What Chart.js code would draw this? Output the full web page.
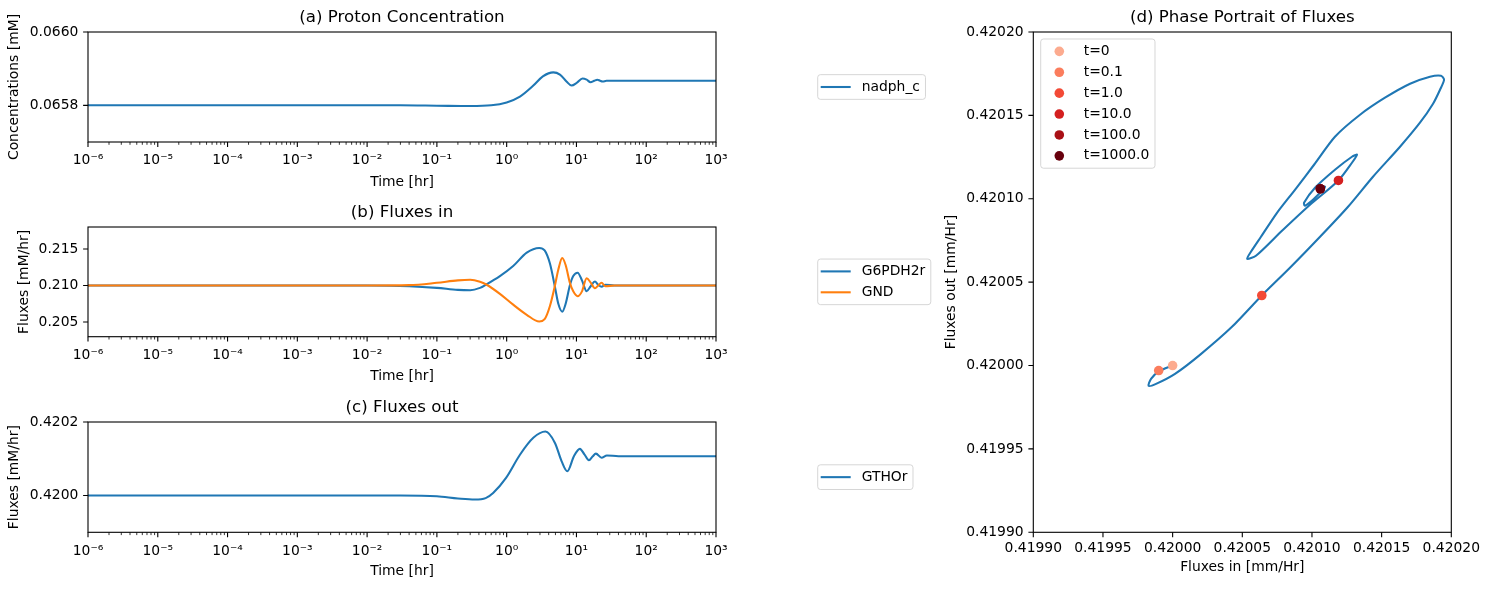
<!DOCTYPE html>
<html>
<head>
<meta charset="utf-8">
<script src="https://cdn.jsdelivr.net/npm/chart.js"></script>
<style>
html,body{margin:0;padding:0;background:#fff;}
#wrap{position:relative;width:1489px;height:590px;overflow:hidden;background:#fff;}
canvas{position:absolute;}
</style>
</head>
<body>
<div id="wrap">
<canvas id="ca" width="940" height="195" style="left:0px;top:0px"></canvas>
<canvas id="cb" width="940" height="195" style="left:0px;top:195px"></canvas>
<canvas id="cc" width="940" height="200" style="left:0px;top:390px"></canvas>
<canvas id="cd" width="549" height="590" style="left:940px;top:0px"></canvas>
</div>
<script>
// ---------------- data ----------------
const logTickExponents = [-6, -5, -4, -3, -2, -1, 0, 1, 2, 3];

// (a) Proton concentration
const nadphTime   = [1e-6, 1e-3, 0.03, 0.1, 0.3, 0.6, 1.0, 1.55, 2.41, 3.3, 4.66, 5.8, 7.2, 8.5, 10.2, 12.2, 14, 15.9, 18, 19.9, 21.8, 23.7, 27, 40, 1000];
const nadphValues = [0.065800, 0.065800, 0.065800, 0.065799, 0.065798, 0.065800, 0.065808, 0.065824, 0.065854, 0.065879, 0.065890, 0.065884, 0.065865, 0.065854, 0.065862, 0.065873, 0.065870, 0.065863, 0.065867, 0.065870, 0.065867, 0.065865, 0.065867, 0.065867, 0.065867];
const yTicksA = [0.0658, 0.0660];

// (b) Fluxes in
const fluxInTime    = [1e-6, 1e-3, 0.01, 0.04, 0.1, 0.2, 0.3, 0.415, 0.51, 0.8, 1.24, 1.94, 2.93, 3.5, 4.17, 4.92, 5.5, 6.26, 7.0, 8.09, 9.0, 10.4, 12, 14, 16, 18.4, 20.5, 22.9, 26, 35, 1000];
const g6pdh2rValues = [0.21, 0.21, 0.21, 0.20991, 0.20968, 0.2094, 0.20935, 0.20968, 0.21014, 0.21128, 0.21266, 0.2145, 0.21514, 0.2148, 0.2130, 0.2098, 0.2075, 0.20642, 0.2075, 0.2101, 0.2113, 0.21175, 0.2107, 0.20922, 0.2099, 0.21055, 0.2101, 0.20982, 0.2101, 0.21, 0.21];
const gndValues     = [0.21, 0.21, 0.21, 0.21005, 0.21037, 0.2107, 0.21078, 0.21051, 0.21014, 0.20886, 0.20738, 0.206, 0.20508, 0.2054, 0.2072, 0.2100, 0.2122, 0.21376, 0.2128, 0.2103, 0.2092, 0.20853, 0.2092, 0.2110, 0.2104, 0.20963, 0.2100, 0.21037, 0.2099, 0.21, 0.21];
const yTicksB = [0.205, 0.210, 0.215];

// (c) Fluxes out
const gthorTime   = [1e-6, 1e-3, 0.03, 0.1, 0.2, 0.35, 0.5, 0.64, 0.98, 1.55, 2.41, 3.6, 4.92, 6.14, 7.4, 9.2, 11.2, 13, 15.1, 17, 19, 22.9, 27.3, 40, 1000];
const gthorValues = [0.42, 0.42, 0.42, 0.419998, 0.419992, 0.419989, 0.419993, 0.420007, 0.420048, 0.420111, 0.420157, 0.420174, 0.420143, 0.420093, 0.420066, 0.420107, 0.420127, 0.420112, 0.420096, 0.420106, 0.420114, 0.420103, 0.420109, 0.420107, 0.420107];
const yTicksC = [0.4200, 0.4202];

// (d) Phase portrait
const phaseFluxIn  = [0.42000, 0.4199904, 0.4199845, 0.4199827, 0.4199881, 0.4200017, 0.4200196, 0.4200426, 0.420064, 0.4200842, 0.4201058, 0.4201259, 0.4201438, 0.4201632, 0.4201775, 0.4201869, 0.4201919, 0.4201948, 0.4201926, 0.4201847, 0.4201704, 0.4201524, 0.4201345, 0.4201165, 0.4201015, 0.4200878, 0.4200749, 0.4200634, 0.4200562, 0.4200534, 0.4200598, 0.4200785, 0.4200986, 0.420119, 0.4201287, 0.4201323, 0.4201287, 0.4201165, 0.4201022, 0.4200943, 0.420095, 0.4201007, 0.4201065, 0.4201094, 0.4201065];
const phaseFluxOut = [0.42000, 0.4199966, 0.419992, 0.4199878, 0.419989, 0.419995, 0.4200064, 0.4200232, 0.420042, 0.4200586, 0.4200772, 0.4200952, 0.4201132, 0.4201312, 0.4201456, 0.420157, 0.4201654, 0.4201714, 0.4201738, 0.4201732, 0.420169, 0.4201606, 0.4201504, 0.4201372, 0.4201204, 0.4201054, 0.4200916, 0.4200772, 0.4200682, 0.420064, 0.4200658, 0.4200808, 0.4200964, 0.420111, 0.4201216, 0.4201264, 0.4201252, 0.4201174, 0.4201066, 0.4200976, 0.4200958, 0.4200994, 0.4201042, 0.4201072, 0.420106];
const markerLabels  = ['t=0', 't=0.1', 't=1.0', 't=10.0', 't=100.0', 't=1000.0'];
const markerFluxIn  = [0.42000, 0.419990, 0.420064, 0.420119, 0.420106, 0.420106];
const markerFluxOut = [0.42000, 0.419997, 0.420042, 0.420111, 0.420106, 0.420106];
const ticksD = [0.41990, 0.41995, 0.42000, 0.42005, 0.42010, 0.42015, 0.42020];

// ---------------- styles ----------------
const BLUE = '#1f77b4', ORANGE = '#ff7f0e';
const markerColors = ['#fcab8f', '#fb7d5d', '#f34a36', '#d42020', '#a91016', '#67000d'];
const FONT = '"DejaVu Sans"';
const FS = 13.89;

Chart.defaults.font.family = FONT;
Chart.defaults.font.size = FS;
Chart.defaults.color = '#000';

// ---------------- helpers ----------------
const SUP = {'-':'\u207B','0':'\u2070','1':'\u00B9','2':'\u00B2','3':'\u00B3','4':'\u2074','5':'\u2075','6':'\u2076','7':'\u2077','8':'\u2078','9':'\u2079'};
function supLabel(e) { return '10' + String(e).split('').map(c => SUP[c]).join(''); }
function isMajorLog(v) { const e = Math.round(Math.log10(v)); return Math.abs(v / Math.pow(10, e) - 1) < 1e-9; }
const logMajor = logTickExponents.map(e => Math.pow(10, e));
const logMinor = [];
logTickExponents.slice(0, -1).forEach(e => { for (let m = 2; m <= 9; m++) logMinor.push(m * Math.pow(10, e)); });
const logAll = logMajor.concat(logMinor).sort((a, b) => a - b);
const pts = (xs, ys) => xs.map((x, i) => ({x: x, y: ys[i]}));

const tickInfo = {};
const legendInfo = {};

const frameTicks = {
  id: 'frameTicks',
  afterDatasetsDraw(chart) {
    const info = tickInfo[chart.canvas.id];
    if (!info) return;
    const ctx = chart.ctx, a = chart.chartArea, sx = chart.scales.x, sy = chart.scales.y;
    ctx.save();
    ctx.strokeStyle = '#000';
    const drawX = (vals, len, w) => {
      ctx.lineWidth = w; ctx.beginPath();
      vals.forEach(v => { const p = sx.getPixelForValue(v); ctx.moveTo(p, a.bottom); ctx.lineTo(p, a.bottom + len); });
      ctx.stroke();
    };
    const drawY = (vals, len, w) => {
      ctx.lineWidth = w; ctx.beginPath();
      vals.forEach(v => { const p = sy.getPixelForValue(v); ctx.moveTo(a.left, p); ctx.lineTo(a.left - len, p); });
      ctx.stroke();
    };
    drawX(info.xMajor, 4.9, 1.1);
    if (info.xMinor) drawX(info.xMinor, 2.8, 0.8);
    drawY(info.yMajor, 4.9, 1.1);
    ctx.lineWidth = 1.1;
    ctx.strokeRect(a.left, a.top, a.right - a.left, a.bottom - a.top);
    ctx.restore();
  }
};

function roundRectPath(ctx, x, y, w, h, r) {
  ctx.beginPath();
  ctx.moveTo(x + r, y);
  ctx.lineTo(x + w - r, y); ctx.arcTo(x + w, y, x + w, y + r, r);
  ctx.lineTo(x + w, y + h - r); ctx.arcTo(x + w, y + h, x + w - r, y + h, r);
  ctx.lineTo(x + r, y + h); ctx.arcTo(x, y + h, x, y + h - r, r);
  ctx.lineTo(x, y + r); ctx.arcTo(x, y, x + r, y, r);
  ctx.closePath();
}

const boxLegend = {
  id: 'boxLegend',
  afterDraw(chart) {
    const L = legendInfo[chart.canvas.id];
    if (!L) return;
    const ctx = chart.ctx, a = chart.chartArea;
    const items = chart.data.datasets.filter(d => d.legendKind).sort((p, q) => p.legendRank - q.legendRank);
    ctx.save();
    ctx.font = FS + 'px ' + FONT;
    const maxW = Math.max.apply(null, items.map(d => ctx.measureText(d.label).width));
    const n = items.length;
    const h = 24.7 + (n - 1) * 20.9;
    const x = L.inside ? a.left + 7.4 : L.x;
    const y = L.inside ? a.top + 7 : (a.top + a.bottom) / 2 - h / 2;
    const w = Math.max(L.minW || 0, L.textOff + maxW + 5.5);
    roundRectPath(ctx, x, y, w, h, 2.8);
    ctx.fillStyle = 'rgba(255,255,255,0.8)';
    ctx.fill();
    ctx.strokeStyle = 'rgba(204,204,204,0.8)';
    ctx.lineWidth = 1;
    ctx.stroke();
    items.forEach((d, i) => {
      const ry = y + 12.35 + i * 20.9;
      if (d.legendKind === 'line') {
        ctx.strokeStyle = d.borderColor; ctx.lineWidth = 2.08;
        ctx.beginPath(); ctx.moveTo(x + 3, ry); ctx.lineTo(x + 33, ry); ctx.stroke();
      } else {
        ctx.fillStyle = d.backgroundColor;
        ctx.beginPath(); ctx.arc(x + 18.6, ry, 4.8, 0, Math.PI * 2); ctx.fill();
      }
      ctx.fillStyle = '#000'; ctx.textAlign = 'left'; ctx.textBaseline = 'middle';
      ctx.fillText(d.label, x + L.textOff, ry);
    });
    ctx.restore();
  }
};

function lineDataset(label, xs, ys, color, rank) {
  return {
    label: label, data: pts(xs, ys), borderColor: color, backgroundColor: color,
    borderWidth: 2.08, pointRadius: 0, pointHoverRadius: 0, fill: false,
    cubicInterpolationMode: 'monotone', legendKind: 'line', legendRank: rank, clip: 2
  };
}

function timeChart(id, o) {
  tickInfo[id] = {xMajor: logMajor, xMinor: logMinor, yMajor: o.yTicks};
  legendInfo[id] = {x: 817.7, textOff: 44, minW: o.legendW};
  return new Chart(document.getElementById(id), {
    type: 'line',
    data: {datasets: o.datasets},
    options: {
      responsive: false, animation: false, events: [],
      layout: {padding: {left: 0, right: 224, top: 0, bottom: 0}},
      plugins: {
        legend: {display: false}, tooltip: {enabled: false},
        title: {display: true, text: o.title, fullSize: false, color: '#000',
                font: {size: 16.67, weight: 'normal'}, padding: {top: 8, bottom: 4}}
      },
      scales: {
        x: {
          type: 'logarithmic', min: 1e-6, max: 1e3,
          afterBuildTicks: s => { s.ticks = logAll.map(v => ({value: v, major: isMajorLog(v)})); },
          afterFit: s => { s.height = o.xAxisHeight; },
          ticks: {autoSkip: false, maxRotation: 0, minRotation: 0, padding: 10.3, color: '#000',
                  callback: v => isMajorLog(v) ? supLabel(Math.round(Math.log10(v))) : ''},
          grid: {display: false, drawTicks: false}, border: {display: false},
          title: {display: true, text: 'Time [hr]', color: '#000', padding: {top: 0, bottom: o.xTitlePad}}
        },
        y: {
          type: 'linear', min: o.yMin, max: o.yMax,
          afterBuildTicks: s => { s.ticks = o.yTicks.map(v => ({value: v})); },
          afterFit: s => { s.width = 88; },
          ticks: {padding: 9.7, color: '#000', callback: v => Number(v).toFixed(o.decimals)},
          grid: {display: false, drawTicks: false}, border: {display: false},
          title: {display: true, text: o.yTitle, color: '#000', padding: {top: o.yTitlePad, bottom: 0}}
        }
      }
    },
    plugins: [frameTicks, boxLegend]
  });
}

timeChart('ca', {
  title: '(a) Proton Concentration', yTitle: 'Concentrations [mM]', yTitlePad: 5.9,
  yMin: 0.0657, yMax: 0.0660, yTicks: yTicksA, decimals: 4, xAxisHeight: 53, xTitlePad: 4.7, legendW: 107.3,
  datasets: [lineDataset('nadph_c', nadphTime, nadphValues, BLUE, 0)]
});
timeChart('cb', {
  title: '(b) Fluxes in', yTitle: 'Fluxes [mM/hr]', yTitlePad: 16.4,
  yMin: 0.203, yMax: 0.218, yTicks: yTicksB, decimals: 3, xAxisHeight: 53.3, xTitlePad: 5.4, legendW: 112.3,
  datasets: [lineDataset('GND', fluxInTime, gndValues, ORANGE, 1),
             lineDataset('G6PDH2r', fluxInTime, g6pdh2rValues, BLUE, 0)]
});
timeChart('cc', {
  title: '(c) Fluxes out', yTitle: 'Fluxes [mM/hr]', yTitlePad: 6.4,
  yMin: 0.4199, yMax: 0.4202, yTicks: yTicksC, decimals: 4, xAxisHeight: 57.7, xTitlePad: 9.8, legendW: 94.6,
  datasets: [lineDataset('GTHOr', gthorTime, gthorValues, BLUE, 0)]
});

// (d)
tickInfo['cd'] = {xMajor: ticksD, yMajor: ticksD};
legendInfo['cd'] = {inside: true, textOff: 43, minW: 114.3};
const phaseDatasets = [];
markerLabels.forEach((lab, i) => {
  phaseDatasets.push({
    label: lab, data: [{x: markerFluxIn[i], y: markerFluxOut[i]}],
    backgroundColor: markerColors[i], borderColor: markerColors[i],
    pointRadius: 4.8, pointHoverRadius: 4.8, pointBorderWidth: 0, borderWidth: 0,
    showLine: false, order: markerLabels.length - 1 - i, legendKind: 'marker', legendRank: i
  });
});
phaseDatasets.push({
  label: 'phase', data: pts(phaseFluxIn, phaseFluxOut), showLine: true,
  borderColor: BLUE, backgroundColor: BLUE, borderWidth: 2.08, pointRadius: 0, pointHoverRadius: 0,
  tension: 0.25, fill: false, order: 10
});

new Chart(document.getElementById('cd'), {
  type: 'scatter',
  data: {datasets: phaseDatasets},
  options: {
    responsive: false, animation: false, events: [],
    layout: {padding: {left: 0, right: 37.7, top: 0, bottom: 0}},
    plugins: {
      legend: {display: false}, tooltip: {enabled: false},
      title: {display: true, text: '(d) Phase Portrait of Fluxes', fullSize: false, color: '#000',
              font: {size: 16.67, weight: 'normal'}, padding: {top: 8, bottom: 4}}
    },
    scales: {
      x: {
        type: 'linear', min: 0.4199, max: 0.4202,
        afterBuildTicks: s => { s.ticks = ticksD.map(v => ({value: v})); },
        afterFit: s => { s.height = 57.7; },
        ticks: {autoSkip: false, maxRotation: 0, minRotation: 0, padding: 8, color: '#000', callback: v => Number(v).toFixed(5)},
        grid: {display: false, drawTicks: false}, border: {display: false},
        title: {display: true, text: 'Fluxes in [mm/Hr]', color: '#000', padding: {top: 0, bottom: 14.7}}
      },
      y: {
        type: 'linear', min: 0.4199, max: 0.4202,
        afterBuildTicks: s => { s.ticks = ticksD.map(v => ({value: v})); },
        afterFit: s => { s.width = 93.3; },
        ticks: {autoSkip: false, padding: 9.7, color: '#000', callback: v => Number(v).toFixed(5)},
        grid: {display: false, drawTicks: false}, border: {display: false},
        title: {display: true, text: 'Fluxes out [mm/Hr]', color: '#000', padding: {top: 3.4, bottom: 0}}
      }
    }
  },
  plugins: [frameTicks, boxLegend]
});
</script>
</body>
</html>
